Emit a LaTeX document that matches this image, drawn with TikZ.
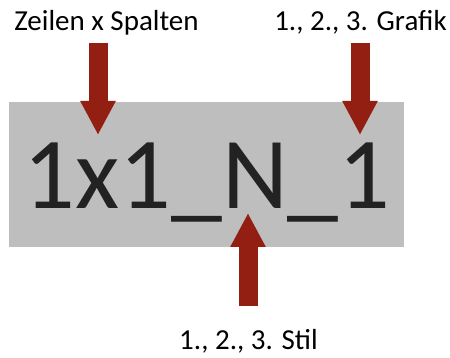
\documentclass[tikz,border=0pt]{standalone}
\usepackage{fontspec}
\setmainfont{Carlito}
\usetikzlibrary{arrows.meta}
\definecolor{boxgray}{HTML}{BEBEBE}
\definecolor{arrowred}{HTML}{921F12}
\definecolor{codetext}{HTML}{222222}
\tikzset{
  bigarrow/.style={draw=arrowred, line width=19pt, line cap=butt,
    -{Triangle[length=34pt, width=33pt, fill=arrowred]}},
  labeltext/.style={font=\fontsize{29}{34}\selectfont, text=black, inner sep=0pt, anchor=base},
  codetextstyle/.style={font=\fontsize{102}{120}\selectfont, text=codetext, draw=none, inner sep=0pt, anchor=base}
}
\begin{document}
\begin{tikzpicture}[x=1pt, y=-1pt]
\useasboundingbox (0,0) rectangle (450,358);
\fill[boxgray] (9,102) rectangle (404,247);
\node[codetextstyle] (code) at (207,209) {1x1\_N\_1};
\node[labeltext] (rows) at (106.5,31) {Zeilen x Spalten};
\node[labeltext] (graf) at (360.5,31) {1., 2., 3. Grafik};
\node[labeltext] (stil) at (248.5,349) {1., 2., 3. Stil};
\coordinate (a1s) at (98,43);
\coordinate (a1e) at (98,135);
\coordinate (a2s) at (360,43);
\coordinate (a2e) at (360,135);
\coordinate (a3s) at (248,306);
\coordinate (a3e) at (248,213);
\draw[bigarrow] (a1s) -- (a1e);
\draw[bigarrow] (a2s) -- (a2e);
\draw[bigarrow] (a3s) -- (a3e);
\end{tikzpicture}
\end{document}
